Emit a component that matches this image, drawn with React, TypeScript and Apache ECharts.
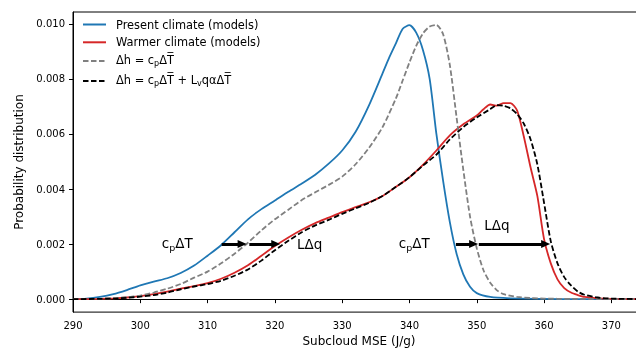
import React, { useEffect, useRef } from 'react';
import * as echarts from 'echarts';

// Present climate (models)
const presentX = [290, 292, 294, 296, 298, 300, 302, 304, 306, 308, 310, 312, 314, 316, 318, 320, 322, 324, 326, 328, 330, 332, 334, 336, 337, 338, 339, 340, 341, 342, 343, 344, 345, 346, 347, 348, 349, 350, 352, 355, 360, 365, 375];
const presentY = [0, 0.00002, 0.00008, 0.00018, 0.00033, 0.0005, 0.00064, 0.00076, 0.00095, 0.00122, 0.00158, 0.00196, 0.00243, 0.0029, 0.00327, 0.00358, 0.0039, 0.0042, 0.00452, 0.00492, 0.0054, 0.00608, 0.00705, 0.0082, 0.00878, 0.0093, 0.00982, 0.00995, 0.00968, 0.00905, 0.008, 0.006, 0.0043, 0.0028, 0.00165, 0.0009, 0.00045, 0.00022, 0.00008, 0.00003, 0.00001, 0, 0];

// Warmer climate (models)
const warmerX = [290, 292, 294, 296, 298, 300, 302, 304, 306, 308, 310, 312, 314, 316, 318, 320, 322, 324, 326, 328, 330, 332, 334, 336, 338, 340, 342, 344, 346, 348, 350, 351, 352, 353, 354, 355, 356, 357, 358, 359, 360, 361, 362, 363, 364, 365, 366, 368, 370, 375];
const warmerY = [0, 0, 0.00001, 0.00003, 0.00006, 0.00011, 0.00018, 0.00027, 0.00038, 0.00047, 0.00058, 0.00074, 0.00096, 0.00123, 0.00158, 0.00193, 0.00224, 0.00252, 0.00276, 0.00296, 0.00316, 0.00334, 0.00352, 0.00375, 0.00408, 0.00443, 0.00488, 0.0054, 0.00595, 0.00635, 0.00667, 0.0069, 0.00707, 0.00703, 0.00712, 0.00712, 0.00685, 0.0059, 0.00478, 0.00375, 0.00218, 0.0013, 0.00072, 0.0004, 0.00024, 0.00015, 0.00008, 0.00003, 0.00001, 0];

// Δh = cpΔT
const cpX = [290, 294, 296, 298, 300, 302, 304, 306, 308, 310, 312, 314, 316, 318, 320, 322, 324, 326, 328, 330, 332, 334, 336, 338, 339, 340, 341, 342, 343, 344, 345, 346, 347, 348, 349, 350, 351, 352, 353, 354, 356, 358, 360, 364, 375];
const cpY = [0, 0.00001, 0.00003, 0.00007, 0.00013, 0.00024, 0.00038, 0.00055, 0.00078, 0.001, 0.0013, 0.00165, 0.00205, 0.0025, 0.0029, 0.00325, 0.0036, 0.00388, 0.00415, 0.00445, 0.0049, 0.0055, 0.00625, 0.0073, 0.00795, 0.0086, 0.0092, 0.00965, 0.0099, 0.00996, 0.00962, 0.0085, 0.0066, 0.0047, 0.003, 0.00185, 0.00105, 0.0006, 0.00032, 0.00018, 0.00008, 0.00004, 0.00002, 0.00001, 0];

// Δh = cpΔT + LvqαΔT
const fullX = [290, 296, 298, 300, 302, 304, 306, 308, 310, 312, 314, 316, 318, 320, 322, 324, 326, 328, 330, 332, 334, 336, 338, 340, 342, 344, 346, 348, 350, 352, 353, 354, 355, 356, 357, 358, 359, 360, 361, 362, 363, 364, 365, 366, 368, 370, 375];
const fullY = [0, 0.00002, 0.00005, 0.00009, 0.00015, 0.00024, 0.00036, 0.00046, 0.00055, 0.00067, 0.00085, 0.00108, 0.0014, 0.00178, 0.00212, 0.00243, 0.00268, 0.00288, 0.0031, 0.0033, 0.0035, 0.00375, 0.00408, 0.00443, 0.00485, 0.00525, 0.0058, 0.00625, 0.0066, 0.0069, 0.00705, 0.00702, 0.00693, 0.00672, 0.00637, 0.0058, 0.0049, 0.0035, 0.0021, 0.0013, 0.0008, 0.0005, 0.00028, 0.00016, 0.00006, 0.00002, 0];

const seriesNames = ['Present climate (models)', 'Warmer climate (models)', 'Δh = cpΔT', 'Δh = cpΔT + LvqαΔT'];

const xTickValues = [290, 300, 310, 320, 330, 340, 350, 360, 370];
const yTickValues = [0, 0.002, 0.004, 0.006, 0.008, 0.01];

// arrows (tip positions in data units)
const arrowStartX = [312.1, 316.2, 346.9, 350.3];
const arrowEndX = [315.8, 320.8, 350.2, 360.9];
const arrowYs = [0.002, 0.002, 0.002, 0.002];

// annotation texts
const annotKeys = ['cp', 'lq', 'cp', 'lq'];
const annotX = [307.8, 323.3, 343.0, 353.0];
const annotY = [0.002, 0.002, 0.002, 0.0027];
const annotPos = ['left', 'right', 'left', 'inside'];

const FONT = 'DejaVu Sans';

export default function App() {
  const ref = useRef<HTMLDivElement>(null);
  useEffect(() => {
    if (!ref.current) return;
    const chart = echarts.init(ref.current, null, { renderer: 'svg' });
    const toPairs = (xs: number[], ys: number[]) => xs.map((x, i) => [x, ys[i]]);
    const legendRich: Record<string, string> = {
      [seriesNames[0]]: '{n|Present climate (models)}',
      [seriesNames[1]]: '{n|Warmer climate (models)}',
      [seriesNames[2]]: '{n|Δh = c}{s|p}{n|ΔT\u0305}',
      [seriesNames[3]]: '{n|Δh = c}{s|p}{n|ΔT\u0305 + L}{s|v}{n|qαΔT\u0305}',
    };
    const annotRich: Record<string, string> = {
      cp: '{n|c}{s|p}{n|ΔT}',
      lq: '{n|LΔq}',
    };
    const headPx = 9;
    const plotWidth = 572;
    const pxPerUnit = plotWidth / 85;
    const option: any = {
      animation: false,
      textStyle: { fontFamily: FONT },
      grid: {
        left: 73, right: 15, top: 12, bottom: 37,
        show: true, borderColor: '#000', borderWidth: 1, backgroundColor: 'transparent',
      },
      legend: {
        data: seriesNames,
        orient: 'vertical',
        left: 82,
        top: 19,
        padding: 0,
        itemGap: 6.8,
        itemWidth: 23,
        itemHeight: 2,
        itemStyle: { opacity: 0 },
        formatter: (name: string) => legendRich[name] || name,
        textStyle: {
          fontFamily: FONT, fontSize: 11.4, color: '#000', padding: [0, 0, 0, 5],
          rich: {
            n: { fontFamily: FONT, fontSize: 11.4, color: '#000', verticalAlign: 'top' },
            s: { fontFamily: FONT, fontSize: 8, color: '#000', verticalAlign: 'top', padding: [5, 0, 0, 0] },
          },
        },
      },
      xAxis: {
        type: 'value', min: 290, max: 375, interval: 10,
        name: 'Subcloud MSE (J/g)', nameLocation: 'middle', nameGap: 21,
        nameTextStyle: { fontFamily: FONT, fontSize: 12, color: '#000' },
        axisLine: { show: true, lineStyle: { color: '#000', width: 1 } },
        axisTick: { show: true, length: 4, lineStyle: { color: '#000' }, customValues: xTickValues },
        axisLabel: { fontFamily: FONT, fontSize: 10, color: '#000', margin: 8, customValues: xTickValues },
        splitLine: { show: false },
      },
      yAxis: {
        type: 'value', min: -0.00047, max: 0.01043,
        name: 'Probability distribution', nameLocation: 'middle', nameGap: 46,
        nameTextStyle: { fontFamily: FONT, fontSize: 12, color: '#000' },
        axisLine: { show: true, lineStyle: { color: '#000', width: 1 } },
        axisTick: { show: true, length: 4, lineStyle: { color: '#000' }, customValues: yTickValues },
        axisLabel: {
          fontFamily: FONT, fontSize: 10, color: '#000', margin: 8,
          customValues: yTickValues,
          formatter: (v: number) => v.toFixed(3),
        },
        splitLine: { show: false },
      },
      series: [
        {
          name: seriesNames[0], type: 'line', data: toPairs(presentX, presentY),
          symbol: 'none', smooth: 0.25, lineStyle: { color: '#1f77b4', width: 1.8 }, itemStyle: { color: '#1f77b4' },
          z: 2,
        },
        {
          name: seriesNames[1], type: 'line', data: toPairs(warmerX, warmerY),
          symbol: 'none', smooth: 0.25, lineStyle: { color: '#d62728', width: 1.8 }, itemStyle: { color: '#d62728' },
          z: 3,
        },
        {
          name: seriesNames[2], type: 'line', data: toPairs(cpX, cpY),
          symbol: 'none', smooth: 0.25, lineStyle: { color: '#808080', width: 1.8, type: [5.5, 2.5] }, itemStyle: { color: '#808080' },
          z: 4,
        },
        {
          name: seriesNames[3], type: 'line', data: toPairs(fullX, fullY),
          symbol: 'none', smooth: 0.25, lineStyle: { color: '#000', width: 1.8, type: [5.5, 2.5] }, itemStyle: { color: '#000' },
          z: 5,
        },
        {
          name: 'annotations', type: 'line', data: [], symbol: 'none', z: 6,
          markLine: {
            silent: true, animation: false,
            symbol: ['none', 'triangle'],
            symbolSize: [8, headPx],
            lineStyle: { color: '#000', width: 3, type: 'solid' },
            label: { show: false },
            emphasis: { disabled: true },
            data: arrowStartX.map((x0, i) => [
              { coord: [x0, arrowYs[i]] },
              { coord: [arrowEndX[i] - headPx / 2 / pxPerUnit, arrowYs[i]] },
            ]),
          },
          markPoint: {
            silent: true, animation: false,
            symbol: 'circle', symbolSize: 0,
            itemStyle: { color: 'transparent' },
            data: annotX.map((x, i) => ({
              coord: [x, annotY[i]],
              label: {
                show: true, position: annotPos[i], distance: 0,
                formatter: annotRich[annotKeys[i]],
                rich: {
                  n: { fontFamily: FONT, fontSize: 13.5, color: '#000', verticalAlign: 'top' },
                  s: { fontFamily: FONT, fontSize: 9.5, color: '#000', verticalAlign: 'top', padding: [6, 0, 0, 0] },
                },
              },
            })),
          },
        },
      ],
    };
    chart.setOption(option);
    return () => chart.dispose();
  }, []);
  return <div ref={ref} style={{ position: 'fixed', left: 0, top: 0, width: 660, height: 352 }} />;
}
